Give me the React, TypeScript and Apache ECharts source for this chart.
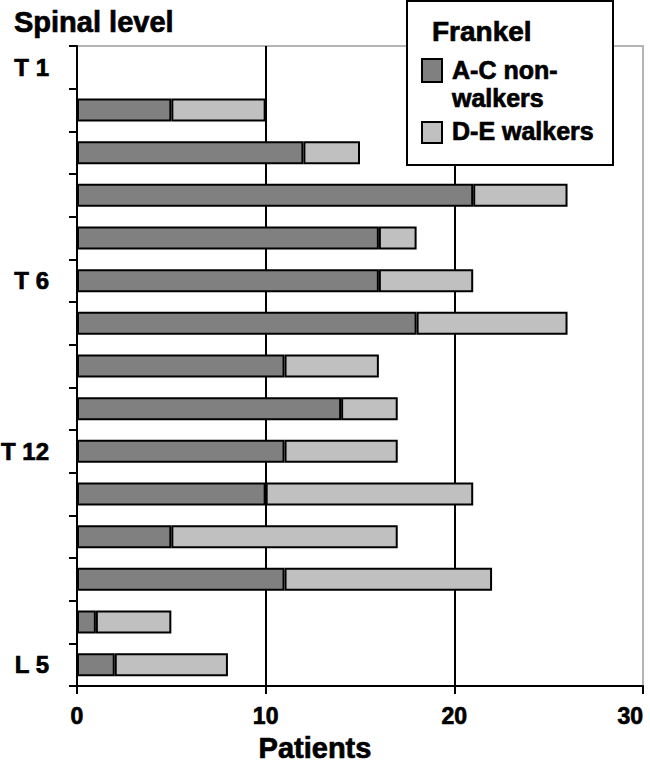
import React, { useEffect, useRef } from "react";
import * as echarts from "echarts";

const levelLabels = ["T 1", "", "", "", "", "T 6", "", "", "", "T 12", "", "", "", "", "L 5"];
const nonWalkers = [null, 5, 12, 21, 16, 16, 18, 11, 14, 11, 10, 5, 11, 1, 2];
const walkers = [null, 5, 3, 5, 2, 5, 8, 5, 3, 6, 11, 12, 11, 4, 6];
const xTicks = [0, 10, 20, 30];
const seriesNames = ["A-C non-\nwalkers", "D-E walkers"];

const FONT = "'Liberation Sans', Arial, sans-serif";
const DARK = "#808080";
const LIGHT = "#c0c0c0";
const HEAVY = { textBorderColor: "#000", textBorderWidth: 0.7 };
const gtext = (text: string, x: number, y: number, size: number, extra: any = {}) => ({
  type: "text",
  x,
  y,
  z: 101,
  style: {
    text,
    fontFamily: FONT,
    fontWeight: "bold",
    fontSize: size,
    fill: "#000",
    stroke: "#000",
    lineWidth: 0.7,
    verticalAlign: "middle",
    ...extra,
  },
});

export default function App() {
  const ref = useRef<HTMLDivElement>(null);
  useEffect(() => {
    document.body.style.margin = "0";
    const chart = echarts.init(ref.current!, null, { renderer: "svg" });
    const cats = levelLabels.map((_, i) => String(i));
    chart.setOption({
      animation: false,
      backgroundColor: "#fff",
      grid: {
        left: 77,
        right: 7,
        top: 46,
        bottom: 79,
        show: true,
        borderColor: "#b4b4b4",
        borderWidth: 2,
        containLabel: false,
        outerBoundsMode: "none",
      },
      xAxis: {
        type: "value",
        min: xTicks[0],
        max: xTicks[xTicks.length - 1],
        interval: 10,
        axisLine: { show: true, lineStyle: { color: "#000", width: 2 } },
        axisTick: { show: true, length: 8, lineStyle: { color: "#000", width: 2 } },
        axisLabel: {
          margin: 18,
          fontFamily: FONT,
          fontWeight: "bold",
          fontSize: 23,
          color: "#000",
          alignMaxLabel: "right",
          ...HEAVY,
        },
        splitLine: {
          show: true,
          lineStyle: { color: ["#000", "#000", "#000", "#b4b4b4"], width: 2 },
        },
      },
      yAxis: {
        type: "category",
        inverse: true,
        data: cats,
        axisLine: { show: true, lineStyle: { color: "#000", width: 2 } },
        axisTick: { show: true, length: 8, lineStyle: { color: "#000", width: 2 } },
        axisLabel: {
          interval: 0,
          margin: 28,
          align: "right",
          fontFamily: FONT,
          fontWeight: "bold",
          fontSize: 24,
          color: "#000",
          ...HEAVY,
          formatter: (v: string) => levelLabels[Number(v)],
        },
        splitLine: { show: false },
      },
      series: [
        {
          name: seriesNames[0],
          type: "bar",
          stack: "total",
          data: nonWalkers,
          barWidth: 23,
          itemStyle: { color: DARK, borderColor: "#000", borderWidth: 2 },
        },
        {
          name: seriesNames[1],
          type: "bar",
          stack: "total",
          data: walkers,
          barWidth: 23,
          itemStyle: { color: LIGHT, borderColor: "#000", borderWidth: 2 },
        },
      ],
      graphic: [
        gtext("Spinal level", 14, 22, 29),
        gtext("Patients", 315, 748, 29, { align: "center" }),
        {
          type: "group",
          z: 100,
          children: [
            {
              type: "rect",
              shape: { x: 407, y: 1, width: 206, height: 164 },
              style: { fill: "#fff", stroke: "#000", lineWidth: 2 },
              z: 100,
            },
            gtext("Frankel", 432, 31, 28),
            {
              type: "rect",
              shape: { x: 422, y: 59, width: 20, height: 23 },
              style: { fill: DARK, stroke: "#000", lineWidth: 2 },
              z: 101,
            },
            gtext("A-C non-", 452, 70, 25),
            gtext("walkers", 452, 98, 25),
            {
              type: "rect",
              shape: { x: 422, y: 122, width: 20, height: 21 },
              style: { fill: LIGHT, stroke: "#000", lineWidth: 2 },
              z: 101,
            },
            gtext("D-E walkers", 452, 131, 25),
          ],
        },
      ],
    });
    return () => chart.dispose();
  }, []);
  return <div ref={ref} style={{ width: 650, height: 765 }} />;
}
